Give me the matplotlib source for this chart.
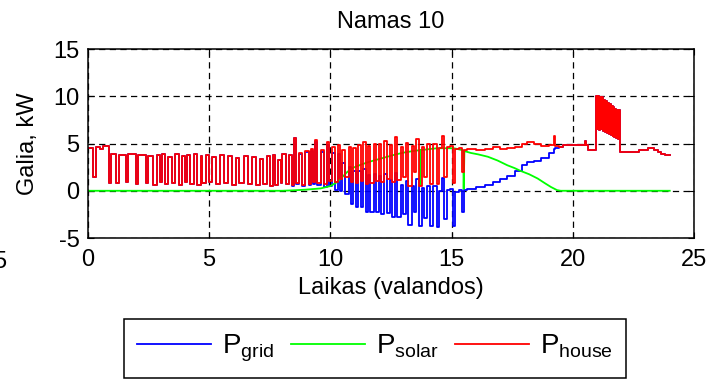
"""Namas 10: house, solar and grid power over one day"""

import matplotlib
matplotlib.use("Agg")
import matplotlib.pyplot as plt
from matplotlib.lines import Line2D

plt.rcParams['font.family'] = ['Liberation Sans', 'DejaVu Sans']
plt.rcParams['mathtext.fontset'] = 'custom'
plt.rcParams['mathtext.rm'] = 'Liberation Sans'
plt.rcParams['mathtext.it'] = 'Liberation Sans:italic'
plt.rcParams['axes.unicode_minus'] = False

# night: no sun, the grid carries the whole house load (hours, kW)
night_t = [0.00, 0.22, 0.32, 0.50, 0.62, 0.88, 0.97, 1.16, 1.27, 1.58,
           1.66, 2.00, 2.07, 2.39, 2.48, 2.69, 2.83, 2.97, 3.07, 3.18,
           3.32, 3.46, 3.60, 3.74, 3.88, 4.02, 4.09, 4.23, 4.37, 4.51,
           4.65, 4.72, 4.85, 5.00, 5.12, 5.28, 5.45, 5.60, 5.78, 5.95,
           6.12, 6.25, 6.45, 6.60, 6.78, 6.95, 7.10, 7.22, 7.40, 7.50,
           7.62, 7.70, 7.85, 7.95]
night_p = [4.5, 1.5, 4.6, 4.4, 4.7, 0.8, 3.9, 0.8, 3.8, 0.9,
           3.9, 0.7, 3.8, 0.8, 3.7, 0.6, 3.8, 0.9, 3.9, 0.7,
           3.6, 0.8, 3.9, 0.6, 3.7, 0.9, 3.8, 0.7, 3.9, 0.6,
           3.7, 0.8, 3.8, 0.9, 3.6, 0.7, 3.8, 0.8, 3.7, 0.6,
           3.5, 0.8, 3.7, 0.7, 3.6, 0.6, 3.4, 0.7, 3.7, 0.5,
           3.8, 0.6, 3.3, 0.8]

# day: house load and grid exchange read at the same switching times
day_t = [8.00, 8.15, 8.30, 8.42, 8.52, 8.58, 8.70, 8.85, 8.95, 9.10,
         9.20, 9.30, 9.38, 9.45, 9.60, 9.72, 9.85, 9.95, 10.08, 10.20,
         10.30, 10.40, 10.50, 10.62, 10.75, 10.85, 10.95, 11.05, 11.15, 11.25,
         11.35, 11.45, 11.55, 11.65, 11.78, 11.88, 12.00, 12.10, 12.22, 12.32,
         12.45, 12.55, 12.68, 12.76, 12.90, 13.00, 13.12, 13.22, 13.35, 13.45,
         13.55, 13.65, 13.78, 13.88, 14.00, 14.12, 14.25, 14.38, 14.48, 14.60,
         14.68, 14.80, 14.92, 15.05, 15.15, 15.30, 15.42, 15.50, 15.65, 16.00,
         16.40, 16.70, 17.00, 17.30, 17.60, 17.90, 18.10, 18.40, 18.70, 19.00,
         19.22, 19.27, 19.45]
day_house = [3.9, 0.7, 3.8, 0.6, 5.6, 0.8, 4.0, 0.6, 4.2, 0.7,
             4.4, 0.9, 5.4, 0.8, 4.3, 0.7, 5.2, 1.0, 4.6, 0.9,
             4.8, 1.2, 4.3, 1.5, 4.6, 0.9, 4.5, 0.8, 4.8, 1.0,
             5.2, 0.7, 4.7, 0.8, 5.0, 1.0, 4.9, 0.9, 5.3, 1.2,
             4.8, 0.9, 5.7, 1.1, 4.6, 1.5, 5.1, 0.5, 4.7, 2.0,
             5.5, 0.5, 4.6, 1.5, 4.9, 0.7, 5.0, 0.7, 4.5, 5.8,
             1.5, 4.6, 4.7, 0.8, 4.4, 4.5, 2.0, 4.3, 4.4, 4.3,
             4.4, 4.6, 4.4, 4.5, 4.6, 5.0, 5.2, 4.9, 4.7, 4.8,
             5.8, 4.7, 4.6]
day_grid = [3.9, 0.68, 3.77, 0.55, 5.55, 0.74, 3.93, 0.5, 4.1, 0.57,
            4.25, 0.72, 5.2, 0.6, 4.05, 0.4, 4.8, 0.55, 4.0, 0.1,
            3.85, 0.0, 2.9, -0.3, 2.5, -1.4, 2.05, -1.75, 2.1, -1.75,
            2.35, -2.2, 1.7, -2.3, 1.8, -2.3, 1.55, -2.5, 1.8, -2.4,
            1.15, -2.8, 1.85, -2.75, 0.65, -2.5, 1.05, -3.6, 0.5, -2.2,
            1.25, -3.75, 0.3, -2.85, 0.5, -3.7, 0.55, -3.8, 0.0, 1.3,
            -3.0, 0.1, 0.2, -3.7, -0.1, 0.1, -2.3, 0.1, 0.2, 0.4,
            0.6, 0.9, 1.2, 1.6, 2.1, 2.7, 3.0, 3.2, 3.5, 4.0,
            4.4, 4.5, 4.6]

# evening: sun gone again, grid equals house load
eve_t = [19.60, 20.50, 20.56, 20.62, 20.95, 21.00, 21.04, 21.08, 21.12, 21.16,
         21.20, 21.24, 21.28, 21.32, 21.36, 21.40, 21.44, 21.48, 21.52, 21.56,
         21.60, 21.64, 21.68, 21.72, 21.76, 21.80, 21.84, 21.88, 21.92, 21.95,
         22.75, 23.10, 23.35, 23.50, 23.65, 23.80, 24.00]
eve_p = [4.85, 5.3, 4.85, 4.3, 10.0, 6.5, 10.0, 6.4, 9.9, 6.5,
         9.9, 6.3, 9.6, 6.2, 9.5, 6.1, 9.3, 6.0, 9.2, 5.9,
         9.0, 5.8, 8.9, 5.7, 8.7, 5.6, 8.6, 5.5, 8.5, 4.1,
         4.3, 4.5, 4.3, 4.1, 3.9, 3.8, 3.8]

# PV output, with two short dropouts
solar_t = [0.0, 8.0, 8.5, 9.0, 9.6, 10.0, 10.3, 10.7, 10.95, 11.3,
           11.65, 12.0, 12.35, 12.7, 13.05, 13.4, 13.70, 13.71, 13.73, 14.05,
           14.4, 14.8, 15.1, 15.45, 15.48, 15.50, 15.53, 15.8, 16.1, 16.5,
           16.9, 17.3, 17.6, 17.85, 18.2, 18.55, 18.85, 19.1, 19.35, 19.5,
           24.0]
solar_p = [0.0, 0.0, 0.05, 0.12, 0.25, 0.5, 0.95, 2.0, 2.45, 2.8,
           3.1, 3.35, 3.6, 3.85, 4.05, 4.2, 4.3, 0.6, 4.3, 4.4,
           4.5, 4.5, 4.5, 4.3, 4.3, 0.2, 4.2, 4.0, 3.85, 3.6,
           3.2, 2.7, 2.4, 2.1, 1.75, 1.3, 0.8, 0.4, 0.07, 0.0,
           0.0]

house_t = night_t + day_t + eve_t
house_p = night_p + day_house + eve_p
grid_t = night_t + day_t + eve_t
grid_p = night_p + day_grid + eve_p


def main():
    fig = plt.figure(figsize=(7.24, 3.81), dpi=100)
    ax = fig.add_axes([0.1215, 0.3753, 0.837, 0.496])

    ax.plot(grid_t, grid_p, color='#0000ff', lw=1.3, drawstyle='steps-post')
    ax.plot(solar_t, solar_p, color='#00ff00', lw=1.3)
    ax.plot(house_t, house_p, color='#ff0000', lw=1.3, drawstyle='steps-post')

    ax.set_xlim(0, 25)
    ax.set_ylim(-5, 15)
    ax.set_xticks([0, 5, 10, 15, 20, 25])
    ax.set_yticks([-5, 0, 5, 10, 15])
    ax.set_axisbelow(True)
    ax.grid(True, color='black', lw=0.9, linestyle=(0, (5.0, 3.5)))
    for sp in ax.spines.values():
        sp.set_linewidth(1.1)
    ax.tick_params(direction='in', length=4, width=0.8, labelsize=17,
                   top=True, right=True)
    ax.tick_params(axis='x', pad=8)
    ax.tick_params(axis='y', pad=6)

    ax.set_title('Namas 10', fontsize=17, pad=15)
    ax.set_xlabel('Laikas (valandos)', fontsize=17, labelpad=4)
    ax.set_ylabel('Galia, kW', fontsize=17, labelpad=10)

    handles = [Line2D([], [], color='#0000ff', lw=1.3),
               Line2D([], [], color='#00ff00', lw=1.3),
               Line2D([], [], color='#ff0000', lw=1.3)]
    labels = [r'$\mathrm{P_{grid}}$', r'$\mathrm{P_{solar}}$',
              r'$\mathrm{P_{house}}$']
    leg = fig.legend(handles, labels, loc='upper center',
                     bbox_to_anchor=(0.518, 0.163), ncol=3, fontsize=20,
                     frameon=True, fancybox=False, edgecolor='black',
                     framealpha=1, handlelength=2.65, handletextpad=0.4,
                     columnspacing=0.6, borderpad=0.5, borderaxespad=0)
    leg.get_frame().set_linewidth(1.1)

    # edge of the neighbouring panel's tick label, cut by the crop
    fig.text(6 / 724, 1 - 262 / 381, '5', ha='right', va='center', fontsize=17)

    fig.savefig('out.png', dpi=100)


if __name__ == "__main__":
    main()
